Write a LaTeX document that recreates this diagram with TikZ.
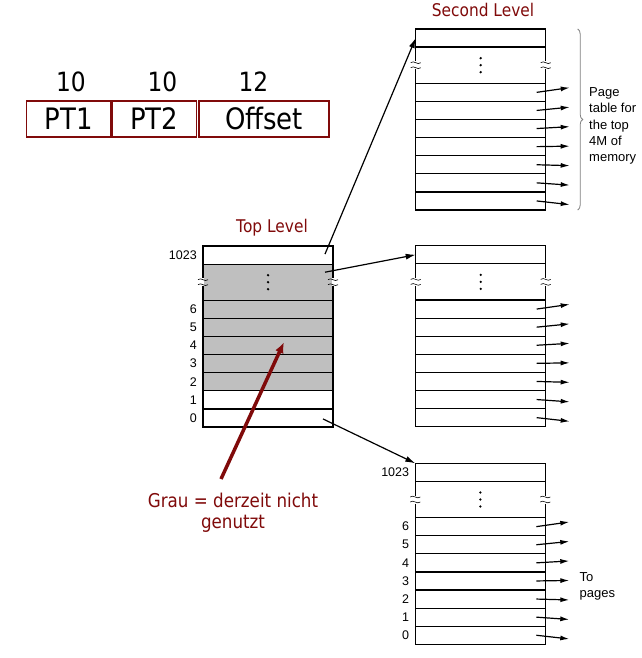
\documentclass[tikz,border=0pt]{standalone}
\usepackage{fontspec}
\usepackage{tikz}
\usetikzlibrary{arrows.meta, positioning, calc, decorations.pathreplacing}
\newfontfamily\tahoma[FakeStretch=0.88]{DejaVu Sans}
\newfontfamily\helv{Liberation Sans}
\definecolor{darkmaroon}{RGB}{128,10,10}
\tikzset{%
	entry/.style={draw, rectangle, minimum width=130pt, minimum height=18.1pt,%
		inner sep=0pt, outer sep=0pt, line width=1.2pt},
	skiprow/.style={minimum height=36.2pt},
	unused/.style={fill=gray!50},
	field/.style={draw=darkmaroon, line width=1.4pt, rectangle, minimum height=36pt,%
		inner sep=0pt, font=\tahoma\fontsize{29.5}{32}\selectfont},
	bits/.style={font=\tahoma\fontsize{26.5}{30}\selectfont, inner sep=0pt},
	leveltitle/.style={text=darkmaroon, font=\tahoma\fontsize{17.5}{20}\selectfont, inner sep=0pt},
	numlbl/.style={font=\helv\fontsize{12.5}{15}\selectfont, inner sep=0pt},
	textnode/.style={font=\helv\fontsize{13}{16.3}\selectfont, align=left, inner sep=0pt},
	ptr/.style={-{Latex[length=9pt,width=5pt]}, line width=1.2pt},
	link/.style={-{Latex[length=10pt,width=6pt]}, line width=1.2pt},
	remark/.style={-{Latex[length=11pt,width=9pt]}, line width=3.5pt, darkmaroon},
	notetext/.style={text=darkmaroon, font=\tahoma\fontsize{19}{21.3}\selectfont, align=center, inner sep=0pt}
}
% one page table: name, top left corner, style of the unused rows
\newcommand{\pagetable}[3]{%
	\node[entry, anchor=north west] (#1-top) at (#2) {};
	\node[entry, skiprow, below=0pt of #1-top, #3] (#1-gap) {};
	\node[entry, below=0pt of #1-gap, #3] (#1-6) {};
	\foreach \cur/\prv in {5/6, 4/5, 3/4, 2/3}
		\node[entry, below=0pt of #1-\prv, #3] (#1-\cur) {};
	\node[entry, below=0pt of #1-2] (#1-1) {};
	\node[entry, below=0pt of #1-1] (#1-0) {};
	\foreach \d in {-7,0,7}
		\fill ($(#1-gap.center)+(0,\d)$) circle (1.3);
	\foreach \side in {west, east} {
		\begin{scope}[shift={(#1-gap.\side)}]
			\fill[white] (-0.9,-4) rectangle (0.9,4);
			\foreach \dy in {-2.5,2.5}
				\draw[line width=0.6pt] (-5,\dy) .. controls (-2,\dy-3) and (2,\dy+3) .. (5,\dy);
		\end{scope}
	}
}

\begin{document}
\begin{tikzpicture}[x=1pt, y=-1pt]
	\useasboundingbox (0,0) rectangle (641,658);

	% virtual address
	\node[field, minimum width=84pt, anchor=west] (pt1) at (26,119) {PT1};
	\node[field, minimum width=84.5pt, right=0pt of pt1] (pt2) {PT2};
	\node[field, minimum width=130pt, right=1pt of pt2] (offset) {Offset};
	\node[bits] (bits1) at (71,81.5) {10};
	\node[bits] (bits2) at (162.5,81.5) {10};
	\node[bits] (bits3) at (253.5,81.5) {12};

	% tables
	\pagetable{top}{203,246}{unused}
	\pagetable{sec}{415.7,29}{}
	\pagetable{mid}{415.7,245.7}{}
	\pagetable{bot}{415.3,463.3}{}

	\node[leveltitle, anchor=base] (top-title) at (272,232.7) {Top Level};
	\node[leveltitle, anchor=base] (sec-title) at (483,16.7) {Second Level};

	\foreach \tab in {top, bot} {
		\node[numlbl, left=6pt of \tab-top] (\tab-lhi) {1023};
		\foreach \n in {6,...,0}
			\node[numlbl, left=6pt of \tab-\n] (\tab-l\n) {\n};
	}

	% entries of the second level
	\foreach \tab in {sec, mid, bot}
		\foreach \n [count=\k from 0] in {6,...,0} {
			\coordinate (\tab-\n-a) at ($(\tab-\n.east)+(-9,0)$);
			\coordinate (\tab-\n-b) at ($(\tab-\n.east)+(24,{-4.7+1.4*\k})$);
			\draw[ptr] (\tab-\n-a) -- (\tab-\n-b);
		}

	\coordinate (top-top-x) at ($(top-top.east)+(-8,-1)$);
	\coordinate (top-gap-x) at ($(top-gap.east)+(-8,-10)$);
	\coordinate (top-0-x) at ($(top-0.east)+(-10,1)$);
	\draw[link] (top-top-x) to (sec-top.west);
	\draw[link] (top-gap-x) to (mid-top.west);
	\draw[link] (top-0-x) to (bot-top.north west);

	\coordinate (brace-top) at ($(sec-top.north east)+(32,0)$);
	\coordinate (brace-bot) at ($(sec-0.south east)+(32,0)$);
	\draw[decorate, decoration={brace, amplitude=5pt}, gray, line width=0.8pt] (brace-top) -- (brace-bot);
	\node[textnode, anchor=north west] (sec-note) at (589,87.5) {Page\\table for\\the top\\4M of\\memory};
	\node[textnode, anchor=north west] (bot-note) at (579.5,572) {To\\pages};

	% legend for the gray rows
	\node[notetext, anchor=north] (grau) at (233,493) {Grau = derzeit nicht\\genutzt};
	\coordinate (grau-tail) at ($(grau.north)+(-12,-14)$);
	\coordinate (unused-tip) at ($(top-4.center)+(16,-3.5)$);
	\draw[remark] (grau-tail) -- (unused-tip);
\end{tikzpicture}
\end{document}
